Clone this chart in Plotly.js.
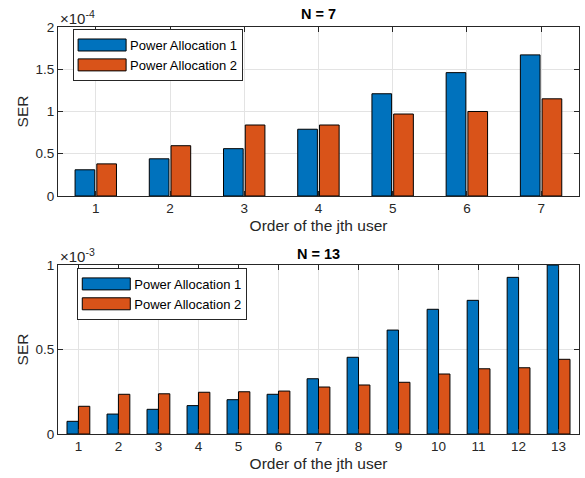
<!DOCTYPE html>
<html>
<head>
<meta charset="utf-8">
<script src="https://cdn.plot.ly/plotly-3.0.1.min.js"></script>
<style>html,body{margin:0;padding:0;background:#fff;}#chart{width:585px;height:478px;}</style>
</head>
<body>
<div id="chart"></div>
<script>
// ---- data ----
const usersN7 = [1, 2, 3, 4, 5, 6, 7];
const serPA1_N7 = [0.31e-4, 0.44e-4, 0.56e-4, 0.79e-4, 1.21e-4, 1.46e-4, 1.67e-4];
const serPA2_N7 = [0.38e-4, 0.595e-4, 0.84e-4, 0.84e-4, 0.97e-4, 1.0e-4, 1.15e-4];

const usersN13 = [1, 2, 3, 4, 5, 6, 7, 8, 9, 10, 11, 12, 13];
const serPA1_N13 = [0.075e-3, 0.118e-3, 0.146e-3, 0.168e-3, 0.203e-3, 0.235e-3, 0.327e-3, 0.454e-3, 0.615e-3, 0.738e-3, 0.791e-3, 0.927e-3, 1.0e-3];
const serPA2_N13 = [0.164e-3, 0.235e-3, 0.238e-3, 0.247e-3, 0.25e-3, 0.254e-3, 0.278e-3, 0.29e-3, 0.306e-3, 0.355e-3, 0.386e-3, 0.392e-3, 0.442e-3];

const seriesNames = ['Power Allocation 1', 'Power Allocation 2'];
const yTickVals7 = [0, 0.5e-4, 1e-4, 1.5e-4, 2e-4];
const yTickText7 = ['0', '0.5', '1', '1.5', '2'];
const yTickVals13 = [0, 0.5e-3, 1e-3];
const yTickText13 = ['0', '0.5', '1'];
const titles = ['N = 7', 'N = 13'];
const xTitle = 'Order of the jth user';
const yTitle = 'SER';

// ---- style ----
const blue = '#0072BD', orange = '#D95319';
const FONT = 'Liberation Sans, Arial, Helvetica, sans-serif';
const axCol = '#262626', gridCol = '#e3e3e3';

const traces = [
  {type:'bar', x: usersN7, y: serPA1_N7, name: seriesNames[0], xaxis:'x', yaxis:'y',
   marker:{color: blue, line:{color:'#000', width:1}}, width:0.265, offset:-0.28, legend:'legend'},
  {type:'bar', x: usersN7, y: serPA2_N7, name: seriesNames[1], xaxis:'x', yaxis:'y',
   marker:{color: orange, line:{color:'#000', width:1}}, width:0.265, offset:0.013, legend:'legend'},
  {type:'bar', x: usersN13, y: serPA1_N13, name: seriesNames[0], xaxis:'x2', yaxis:'y2',
   marker:{color: blue, line:{color:'#000', width:1}}, width:0.285, offset:-0.285, legend:'legend2'},
  {type:'bar', x: usersN13, y: serPA2_N13, name: seriesNames[1], xaxis:'x2', yaxis:'y2',
   marker:{color: orange, line:{color:'#000', width:1}}, width:0.285, offset:0, legend:'legend2'}
];

function xax(users, anchor) {
  const n = users.length;
  return {
    domain:[0,1], anchor: anchor, range:[0.49, n + 0.51],
    tickvals: users, ticktext: users.map(String),
    ticks:'inside', ticklen:5, tickcolor: axCol, showline:true, linecolor: axCol, linewidth:1, mirror:'ticks',
    showgrid:true, gridcolor: gridCol, zeroline:false,
    tickfont:{family:FONT, size:13.5, color:axCol},
    title:{text: xTitle, font:{family:FONT, size:15.5, color:axCol}, standoff:4},
    automargin:false, fixedrange:true
  };
}
function yax(domain, anchor, range, tv, tt) {
  return {
    domain: domain, anchor: anchor, range: range, tickvals: tv, ticktext: tt,
    ticks:'inside', ticklen:5, tickcolor: axCol, showline:true, linecolor: axCol, linewidth:1, mirror:'ticks',
    showgrid:true, gridcolor: gridCol, zeroline:false,
    tickfont:{family:FONT, size:13.5, color:axCol},
    title:{text: yTitle, font:{family:FONT, size:15.5, color:axCol}, standoff:3},
    automargin:false, fixedrange:true
  };
}

const legendStyle = {
  bgcolor:'#fff', bordercolor: axCol, borderwidth:1,
  font:{family:FONT, size:13, color:'#000'}, xanchor:'left', yanchor:'top',
  tracegroupgap:0, itemwidth:46, traceorder:'normal'
};

const layout = {
  width:585, height:478,
  margin:{l:58, r:6, t:27, b:44},
  paper_bgcolor:'#fff', plot_bgcolor:'#fff',
  showlegend:true, barmode:'group',
  xaxis: xax(usersN7, 'y'),
  yaxis: yax([0.5848, 1], 'x', [0, 2e-4], yTickVals7, yTickText7),
  xaxis2: xax(usersN13, 'y2'),
  yaxis2: yax([0, 0.4152], 'x2', [0, 1e-3], yTickVals13, yTickText13),
  legend: Object.assign({x:0.029, y:0.995}, legendStyle),
  legend2: Object.assign({x:0.037, y:0.408}, legendStyle),
  annotations:[
    {text:'<b>' + titles[0] + '</b>', xref:'paper', yref:'paper', x:0.5, y:1.032, xanchor:'center', yanchor:'middle', showarrow:false, font:{family:FONT, size:14.5, color:'#000'}},
    {text:'<b>' + titles[1] + '</b>', xref:'paper', yref:'paper', x:0.5, y:0.4423, xanchor:'center', yanchor:'middle', showarrow:false, font:{family:FONT, size:14.5, color:'#000'}},
    {text:'\u00d710<sup>-4</sup>', xref:'paper', yref:'paper', x:0, y:0.995, xanchor:'left', yanchor:'bottom', showarrow:false, font:{family:FONT, size:15, color:axCol}},
    {text:'\u00d710<sup>-3</sup>', xref:'paper', yref:'paper', x:0, y:0.41, xanchor:'left', yanchor:'bottom', showarrow:false, font:{family:FONT, size:15, color:axCol}}
  ]
};

function widenLegendPatches(gd) {
  // MATLAB-style wide rectangles in both legends
  gd.querySelectorAll('g.traces').forEach(function(item){
    const text = item.querySelector('text');
    if (!text) return;
    item.querySelectorAll('.legendpoints path').forEach(function(path){
      if (!path.getAttribute('d')) return;
      const pm = path.getCTM(), tm = text.getCTM();
      if (!pm || !tm) return;
      const tx = parseFloat(text.getAttribute('x')) || 0;
      const textStart = tx + tm.e - pm.e;
      const right = textStart - 4, left = right - 48;
      path.setAttribute('d', 'M' + right + ',6H' + left + 'V-6H' + right + 'Z');
    });
  });
}

Plotly.newPlot('chart', traces, layout, {staticPlot:true, displayModeBar:false}).then(function(gd){
  widenLegendPatches(gd);
});
</script>
</body>
</html>
